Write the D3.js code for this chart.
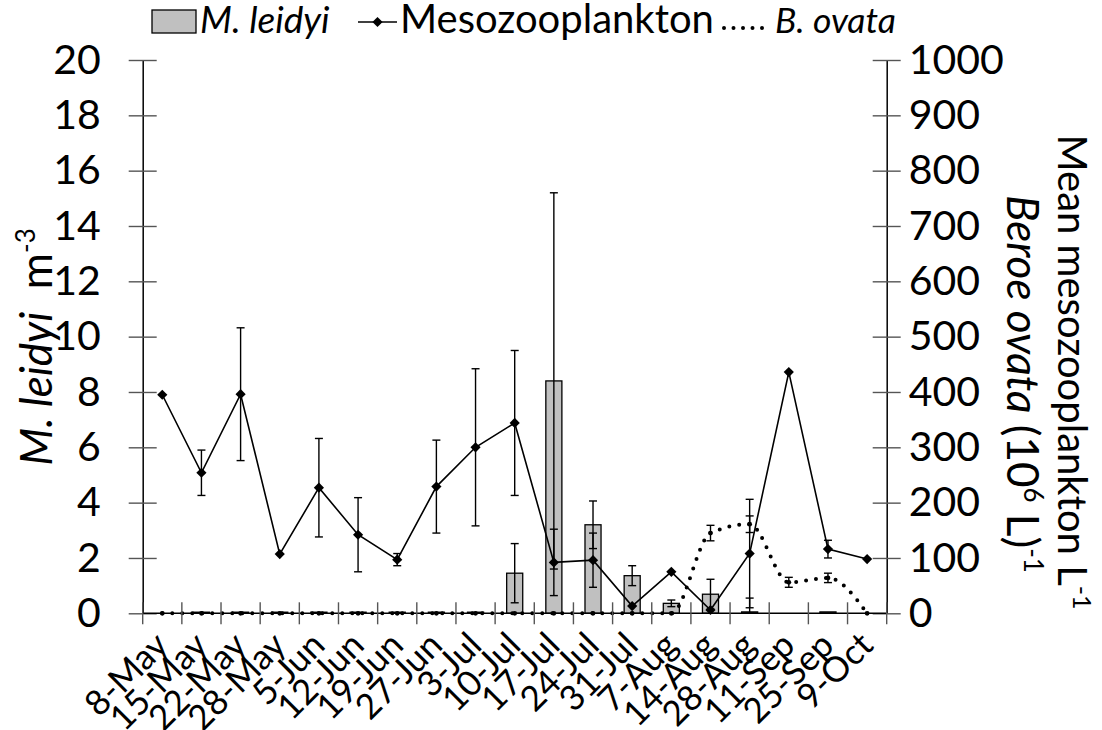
<!DOCTYPE html>
<html>
<head>
<meta charset="utf-8">
<script src="https://cdn.jsdelivr.net/npm/d3@7"></script>
<style>
  html, body { margin: 0; padding: 0; background: #fff; }
  svg { display: block; font-family: Lato, "Open Sans", sans-serif; }
</style>
</head>
<body>
<svg id="chart" width="1102" height="730"></svg>
<script>
// Sampling dates
const dates = ["8-May","15-May","22-May","28-May","5-Jun","12-Jun","19-Jun","27-Jun","3-Jul","10-Jul",
               "17-Jul","24-Jul","31-Jul","7-Aug","14-Aug","28-Aug","11-Sep","25-Sep","9-Oct"];

// M. leidyi density (m^-3) and its error
const leidyi    = [0, 0.04, 0.04, 0.04, 0.04, 0.04, 0.04, 0.04, 0.04, 1.45, 8.4, 3.2, 1.36, 0.36, 0.69, 0.05, 0, 0.05, 0];
const leidyiErr = [0, 0, 0, 0, 0, 0, 0, 0, 0, 1.07, 6.8, 0.86, 0.36, 0.12, 0.54, 0.5, 0, 0, 0];

// Mean mesozooplankton (L^-1) and its error
const meso    = [395, 254, 396, 107, 227, 142, 97, 229, 300, 344, 92, 96, 13, 75, 6, 108, 436, 116, 98];
const mesoErr = [0, 41, 120, 0, 89, 67, 11, 84, 142, 131, 60, 49, 0, 0, 0, 98, 0, 16, 0];

// Beroe ovata ((10^6 L)^-1) and its error
const ovata    = [0, 0, 0, 0, 0, 0, 0, 0, 0, 0, 0, 0, 0, 0, 145, 161, 56, 64, 0];
const ovataErr = [0, 0, 0, 0, 0, 0, 0, 0, 0, 0, 0, 0, 0, 0, 14, 15, 9, 8.5, 0];

// Axis ticks
const leftTicks  = [0, 2, 4, 6, 8, 10, 12, 14, 16, 18, 20];
const rightTicks = [0, 100, 200, 300, 400, 500, 600, 700, 800, 900, 1000];

const svg = d3.select("#chart");
const X0 = 142.7, X1 = 886.7, Y0 = 613.3, Y1 = 60;

const x  = d3.scaleBand().domain(dates).range([X0, X1]).padding(0);
const yL = d3.scaleLinear().domain([0, 20]).range([Y0, Y1]);
const yR = d3.scaleLinear().domain([0, 1000]).range([Y0, Y1]);
const cx = d => x(d) + x.bandwidth() / 2;
const barW = x.bandwidth() * 0.41;
const cap = 4;

const plot = svg.append("g");

// Bars: M. leidyi
plot.selectAll("rect.bar").data(dates).join("rect")
  .attr("class", "bar")
  .attr("x", d => cx(d) - barW / 2)
  .attr("width", barW)
  .attr("y", (d, i) => yL(leidyi[i]))
  .attr("height", (d, i) => Y0 - yL(leidyi[i]))
  .attr("fill", "#c0c0c0")
  .attr("stroke", "#000")
  .attr("stroke-width", 1.3)
  .attr("display", (d, i) => leidyi[i] > 0 ? null : "none");

// Error bars helper
function errorBars(vals, errs, scale) {
  const g = plot.append("g").attr("stroke", "#000").attr("stroke-width", 1.4).attr("fill", "none");
  dates.forEach((d, i) => {
    if (!errs[i]) return;
    const hi = scale(vals[i] + errs[i]);
    const lo = scale(Math.max(0, vals[i] - errs[i]));
    const c = cx(d);
    g.append("line").attr("x1", c).attr("x2", c).attr("y1", hi).attr("y2", lo);
    g.append("line").attr("x1", c - cap).attr("x2", c + cap).attr("y1", hi).attr("y2", hi);
    g.append("line").attr("x1", c - cap).attr("x2", c + cap).attr("y1", lo).attr("y2", lo);
  });
}
errorBars(leidyi, leidyiErr, yL);

// Axes
const axisG = svg.append("g");
const leftAxis = axisG.append("g").attr("transform", `translate(${X0},0)`)
  .call(d3.axisLeft(yL).tickValues(leftTicks).tickSize(14).tickPadding(28).tickSizeOuter(0));
leftAxis.selectAll(".tick line").attr("x1", 14);
const rightAxis = axisG.append("g").attr("transform", `translate(${X1},0)`)
  .call(d3.axisRight(yR).tickValues(rightTicks).tickFormat(d3.format("d"))
    .tickSize(14).tickPadding(8).tickSizeOuter(0));
rightAxis.selectAll(".tick line").attr("x1", -14);
[leftAxis, rightAxis].forEach(a => {
  a.select(".domain").attr("stroke", "#000").attr("stroke-width", 1.5);
  a.selectAll(".tick line").attr("stroke", "#555").attr("stroke-width", 1.4);
  a.selectAll(".tick text").attr("font-size", 41).attr("fill", "#000")
    .attr("font-family", "Lato, sans-serif");
});

// Category axis with ticks on band boundaries
const bottom = axisG.append("g");
bottom.append("line").attr("x1", X0).attr("x2", X1).attr("y1", Y0).attr("y2", Y0)
  .attr("stroke", "#000").attr("stroke-width", 1.5);
const bounds = dates.map(d => x(d)).concat([X1]);
bottom.selectAll("line.tk").data(bounds).join("line").attr("class", "tk")
  .attr("x1", d => d).attr("x2", d => d).attr("y1", Y0 - 11).attr("y2", Y0 + 11)
  .attr("stroke", "#555").attr("stroke-width", 1.4);
bottom.selectAll("text").data(dates).join("text")
  .attr("transform", d => `translate(${cx(d) + 8},${Y0 + 34}) rotate(-45)`)
  .attr("text-anchor", "end")
  .attr("font-size", 35)
  .text(d => d);

// Mesozooplankton line with diamonds
const lineMeso = d3.line().x((d, i) => cx(dates[i])).y(d => yR(d));
plot.append("path").datum(meso).attr("d", lineMeso)
  .attr("fill", "none").attr("stroke", "#000").attr("stroke-width", 1.6);
errorBars(meso, mesoErr, yR);
const diamond = d3.symbol().type(d3.symbolSquare).size(52);
plot.selectAll("path.dia").data(meso).join("path").attr("class", "dia")
  .attr("d", diamond)
  .attr("transform", (d, i) => `translate(${cx(dates[i])},${yR(d)}) rotate(45)`)
  .attr("fill", "#000");

// Beroe ovata: smoothed dotted line
const lineOv = d3.line().x((d, i) => cx(dates[i])).y(d => yR(d)).curve(d3.curveMonotoneX);
plot.append("path").datum(ovata).attr("d", lineOv)
  .attr("fill", "none").attr("stroke", "#000").attr("stroke-width", 4)
  .attr("stroke-linecap", "round").attr("stroke-dasharray", "0 10");
errorBars(ovata, ovataErr, yR);
plot.selectAll("circle.ov").data(ovata).join("circle").attr("class", "ov")
  .attr("cx", (d, i) => cx(dates[i])).attr("cy", d => yR(d)).attr("r", 2.4).attr("fill", "#000");

// Axis titles
svg.append("text")
  .attr("transform", `translate(52,347) rotate(-90)`)
  .attr("text-anchor", "middle").attr("font-size", 44)
  .call(t => {
    t.append("tspan").attr("font-style", "italic").text("M. leidyi");
    t.append("tspan").text("\u00a0\u00a0m");
    t.append("tspan").attr("font-size", 26).attr("dy", -17).text("-3");
  });

svg.append("text")
  .attr("transform", `translate(1007,384) rotate(90)`)
  .attr("text-anchor", "middle").attr("font-size", 44)
  .call(t => {
    t.append("tspan").attr("font-style", "italic").text("Beroe ovata");
    t.append("tspan").text(" (10");
    t.append("tspan").attr("font-size", 26).attr("dy", -17).text("6");
    t.append("tspan").attr("dy", 17).text(" L)");
    t.append("tspan").attr("font-size", 26).attr("dy", -17).text("-1");
  });

svg.append("text")
  .attr("transform", `translate(1058,372) rotate(90)`)
  .attr("text-anchor", "middle").attr("font-size", 40)
  .call(t => {
    t.append("tspan").text("Mean mesozooplankton L");
    t.append("tspan").attr("font-size", 25).attr("dy", -15).text("-1");
  });

// Legend
const lg = svg.append("g");
lg.append("rect").attr("x", 152).attr("y", 10).attr("width", 44).attr("height", 23)
  .attr("fill", "#c0c0c0").attr("stroke", "#000").attr("stroke-width", 1.3);
lg.append("text").attr("x", 200).attr("y", 33)
  .attr("font-size", 37).attr("font-style", "italic").text("M. leidyi");
lg.append("line").attr("x1", 358).attr("x2", 397).attr("y1", 22).attr("y2", 22)
  .attr("stroke", "#000").attr("stroke-width", 1.6);
lg.append("path").attr("d", diamond).attr("transform", "translate(377.5,22) rotate(45)");
lg.append("text").attr("x", 400).attr("y", 33)
  .attr("font-size", 40).text("Mesozooplankton");
lg.append("line").attr("x1", 724).attr("x2", 770).attr("y1", 28).attr("y2", 28)
  .attr("stroke", "#000").attr("stroke-width", 4).attr("stroke-linecap", "round").attr("stroke-dasharray", "0 9.5");
lg.append("text").attr("x", 775).attr("y", 33)
  .attr("font-size", 35.5).attr("font-style", "italic").text("B. ovata");
</script>
</body>
</html>
